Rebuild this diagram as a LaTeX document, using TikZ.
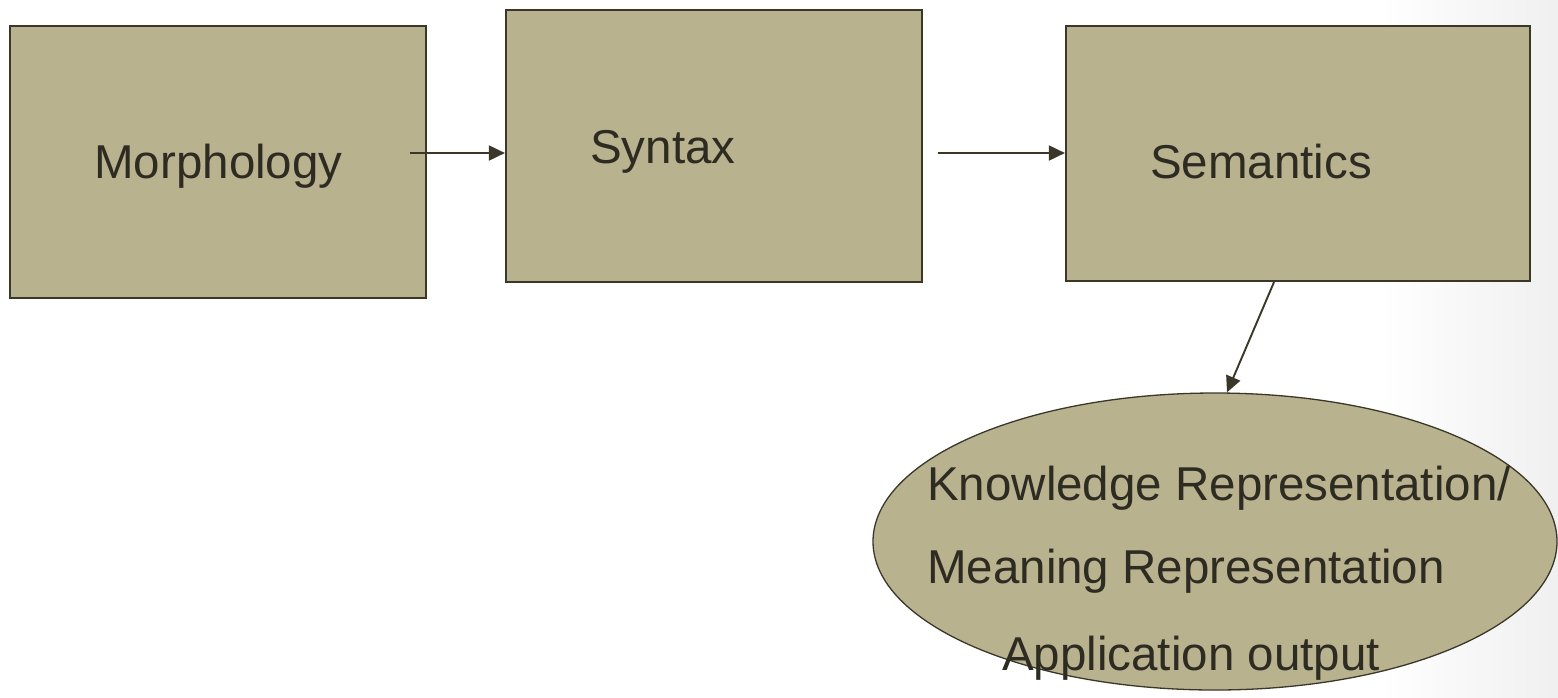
\documentclass[tikz,border=0pt]{standalone}
\usepackage{fontspec}
\setmainfont{Liberation Sans}
\usetikzlibrary{arrows.meta,shapes.geometric}
\definecolor{khaki}{HTML}{B8B28E}
\definecolor{edge}{HTML}{3A3729}
\definecolor{ink}{HTML}{2E2B22}
\tikzset{
  stage/.style={draw=edge, line width=2.2pt, fill=khaki, rectangle, inner sep=0pt},
  result/.style={draw=edge, line width=1.3pt, fill=khaki, ellipse, inner sep=0pt},
  label/.style={text=ink, font=\fontsize{47.5}{57}\selectfont, inner sep=0pt},
  flow/.style={draw=edge, line width=1.9pt, -{Triangle[length=16pt,width=15pt]}}
}
\begin{document}
\begin{tikzpicture}[x=1pt,y=-1pt]
\useasboundingbox (0,0) rectangle (1558,697);
% faint backdrop shading along the right side
\shade[left color=white, right color=black!6] (1380,0) rectangle (1558,697);

% processing stages
\node[stage, minimum width=416pt, minimum height=272pt] (morph) at (218,162) {};
\node[stage, minimum width=416pt, minimum height=272pt] (syn) at (714,146) {};
\node[stage, minimum width=464pt, minimum height=255pt] (sem) at (1298,153.5) {};
\node[result, minimum width=684pt, minimum height=297pt] (kr) at (1215,541.5) {};

% stage labels
\node[label, anchor=base] (morph-t) at (218.5,178) {Morphology};
\node[label, anchor=base west] (syn-t) at (590,163) {Syntax};
\node[label, anchor=base west] (sem-t) at (1150,178) {Semantics};
\node[label, anchor=base west] (kr-a) at (927,500) {Knowledge Representation/};
\node[label, anchor=base west] (kr-b) at (927,583) {Meaning Representation};
\node[label, anchor=base west] (kr-c) at (1002,670) {Application output};

% connectors
\coordinate (morph-out) at (410,153);
\coordinate (syn-out) at (938,153);
\coordinate (sem-out) at ([xshift=-24pt]sem.south);
\coordinate (kr-in) at ([xshift=12pt]kr.north);
\draw[flow] (morph-out) -- (morph-out -| syn.west);
\draw[flow] (syn-out) -- (syn-out -| sem.west);
\draw[flow] (sem-out) -- (kr-in);
\end{tikzpicture}
\end{document}
